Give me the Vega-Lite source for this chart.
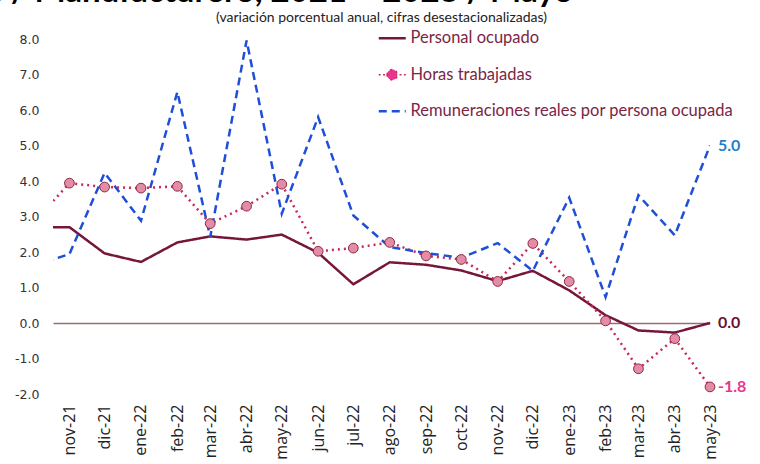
{
  "$schema": "https://vega.github.io/schema/vega-lite/v6.json",
  "autosize": {"type": "none"},
  "width": 657,
  "height": 355,
  "padding": {"left": 53, "top": 39, "right": 50, "bottom": 70},
  "background": "white",
  "config": {
    "view": {"stroke": null},
    "locale": {"number": {"decimal": ".", "thousands": ",", "grouping": [3], "currency": ["$", ""], "minus": "-"}}
  },
  "title": {
    "text": "Personal ocupado, horas trabajadas y remuneraciones / Manufacturero, 2021 – 2023 / Mayo",
    "anchor": "end",
    "frame": "group",
    "dx": -137,
    "offset": -25,
    "baseline": "alphabetic",
    "font": "Lato",
    "fontSize": 33,
    "fontWeight": "bold",
    "color": "#000000"
  },
  "data": {
    "values": [
      {"fecha": "2021-10-01", "Personal ocupado": 2.70, "Horas trabajadas": 2.81, "Remuneraciones reales por persona ocupada": 1.61},
      {"fecha": "2021-11-01", "Personal ocupado": 2.70, "Horas trabajadas": 3.94, "Remuneraciones reales por persona ocupada": 1.94},
      {"fecha": "2021-12-01", "Personal ocupado": 1.96, "Horas trabajadas": 3.83, "Remuneraciones reales por persona ocupada": 4.23},
      {"fecha": "2022-01-01", "Personal ocupado": 1.72, "Horas trabajadas": 3.80, "Remuneraciones reales por persona ocupada": 2.88},
      {"fecha": "2022-02-01", "Personal ocupado": 2.27, "Horas trabajadas": 3.85, "Remuneraciones reales por persona ocupada": 6.51},
      {"fecha": "2022-03-01", "Personal ocupado": 2.44, "Horas trabajadas": 2.80, "Remuneraciones reales por persona ocupada": 2.42},
      {"fecha": "2022-04-01", "Personal ocupado": 2.35, "Horas trabajadas": 3.29, "Remuneraciones reales por persona ocupada": 7.96},
      {"fecha": "2022-05-01", "Personal ocupado": 2.49, "Horas trabajadas": 3.91, "Remuneraciones reales por persona ocupada": 3.08},
      {"fecha": "2022-06-01", "Personal ocupado": 1.98, "Horas trabajadas": 2.02, "Remuneraciones reales por persona ocupada": 5.80},
      {"fecha": "2022-07-01", "Personal ocupado": 1.09, "Horas trabajadas": 2.11, "Remuneraciones reales por persona ocupada": 3.03},
      {"fecha": "2022-08-01", "Personal ocupado": 1.71, "Horas trabajadas": 2.27, "Remuneraciones reales por persona ocupada": 2.14},
      {"fecha": "2022-09-01", "Personal ocupado": 1.64, "Horas trabajadas": 1.89, "Remuneraciones reales por persona ocupada": 1.97},
      {"fecha": "2022-10-01", "Personal ocupado": 1.48, "Horas trabajadas": 1.79, "Remuneraciones reales por persona ocupada": 1.84},
      {"fecha": "2022-11-01", "Personal ocupado": 1.18, "Horas trabajadas": 1.17, "Remuneraciones reales por persona ocupada": 2.25},
      {"fecha": "2022-12-01", "Personal ocupado": 1.47, "Horas trabajadas": 2.24, "Remuneraciones reales por persona ocupada": 1.47},
      {"fecha": "2023-01-01", "Personal ocupado": 0.92, "Horas trabajadas": 1.17, "Remuneraciones reales por persona ocupada": 3.53},
      {"fecha": "2023-02-01", "Personal ocupado": 0.22, "Horas trabajadas": 0.06, "Remuneraciones reales por persona ocupada": 0.73},
      {"fecha": "2023-03-01", "Personal ocupado": -0.21, "Horas trabajadas": -1.29, "Remuneraciones reales por persona ocupada": 3.60},
      {"fecha": "2023-04-01", "Personal ocupado": -0.27, "Horas trabajadas": -0.44, "Remuneraciones reales por persona ocupada": 2.47},
      {"fecha": "2023-05-01", "Personal ocupado": 0.0, "Horas trabajadas": -1.80, "Remuneraciones reales por persona ocupada": 5.0}
    ]
  },
  "transform": [
    {"fold": ["Personal ocupado", "Horas trabajadas", "Remuneraciones reales por persona ocupada"], "as": ["serie", "valor"]}
  ],
  "encoding": {
    "x": {
      "field": "fecha", "type": "temporal",
      "scale": {"type": "utc", "nice": false, "domain": [{"year": 2021, "month": 10, "date": 18, "utc": true}, {"year": 2023, "month": 5, "date": 1, "utc": true}]},
      "axis": {
        "values": [
          {"year": 2021, "month": 11, "date": 1, "utc": true},
          {"year": 2021, "month": 12, "date": 1, "utc": true},
          {"year": 2022, "month": 1, "date": 1, "utc": true},
          {"year": 2022, "month": 2, "date": 1, "utc": true},
          {"year": 2022, "month": 3, "date": 1, "utc": true},
          {"year": 2022, "month": 4, "date": 1, "utc": true},
          {"year": 2022, "month": 5, "date": 1, "utc": true},
          {"year": 2022, "month": 6, "date": 1, "utc": true},
          {"year": 2022, "month": 7, "date": 1, "utc": true},
          {"year": 2022, "month": 8, "date": 1, "utc": true},
          {"year": 2022, "month": 9, "date": 1, "utc": true},
          {"year": 2022, "month": 10, "date": 1, "utc": true},
          {"year": 2022, "month": 11, "date": 1, "utc": true},
          {"year": 2022, "month": 12, "date": 1, "utc": true},
          {"year": 2023, "month": 1, "date": 1, "utc": true},
          {"year": 2023, "month": 2, "date": 1, "utc": true},
          {"year": 2023, "month": 3, "date": 1, "utc": true},
          {"year": 2023, "month": 4, "date": 1, "utc": true},
          {"year": 2023, "month": 5, "date": 1, "utc": true}
        ],
        "labelExpr": "['ene','feb','mar','abr','may','jun','jul','ago','sep','oct','nov','dic'][utcmonth(datum.value)] + '-' + utcFormat(datum.value, '%y')",
        "labelAngle": 270,
        "labelAlign": "right",
        "labelBaseline": "middle",
        "labelFont": "Open Sans",
        "labelFontSize": 16,
        "labelColor": "#222222",
        "labelPadding": 10,
        "labelOverlap": false,
        "labelFlush": false,
        "ticks": false,
        "domain": false,
        "grid": false,
        "title": null
      }
    },
    "y": {
      "field": "valor", "type": "quantitative",
      "scale": {"domain": [-2, 8], "nice": false, "zero": false},
      "axis": {
        "values": [-2, -1, 0, 1, 2, 3, 4, 5, 6, 7, 8],
        "format": ".1f",
        "labelFont": "DejaVu Sans",
        "labelFontSize": 12.5,
        "labelColor": "#333333",
        "labelPadding": 14,
        "labelFlush": false,
        "labelOverlap": false,
        "ticks": false,
        "domain": false,
        "grid": true,
        "gridWidth": 1.5,
        "gridColor": {"condition": {"test": "datum.value === 0", "value": "#9E6B72"}, "value": "transparent"},
        "title": "(variación porcentual anual, cifras desestacionalizadas)",
        "titleAngle": 0,
        "titleX": 328,
        "titleY": -18,
        "titleAlign": "center",
        "titleBaseline": "alphabetic",
        "titleFont": "Lato",
        "titleFontSize": 14,
        "titleFontWeight": "normal",
        "titleColor": "#222222"
      }
    }
  },
  "layer": [
    {
      "mark": {"type": "line", "clip": true, "strokeWidth": 2.5},
      "encoding": {
        "color": {
          "field": "serie", "type": "nominal",
          "scale": {"domain": ["Personal ocupado", "Horas trabajadas", "Remuneraciones reales por persona ocupada"], "range": ["#75163A", "#C8285A", "#1F4FD8"]},
          "legend": {
            "orient": "none",
            "legendX": 331,
            "legendY": -9,
            "direction": "vertical",
            "title": null,
            "symbolType": "stroke",
            "symbolSize": 729,
            "symbolStrokeWidth": 2.5,
            "labelFont": "Lato",
            "labelFontSize": 16.5,
            "labelColor": "#7B2645",
            "labelOffset": 10,
            "labelLimit": 400,
            "rowPadding": 19.5,
            "encode": {
              "symbols": {
                "update": {
                  "shape": {"signal": "datum.value === 'Horas trabajadas' ? 'M-1,0L-0.86,0M-0.68,0L-0.54,0M-0.38,0C-0.38,-0.21,-0.21,-0.38,0,-0.38C0.21,-0.38,0.38,-0.21,0.38,0C0.38,0.21,0.21,0.38,0,0.38C-0.21,0.38,-0.38,0.21,-0.38,0ZM0.54,0L0.68,0M0.86,0L1,0' : 'stroke'"},
                  "strokeDash": {"signal": "datum.value === 'Remuneraciones reales por persona ocupada' ? [7, 4] : []"},
                  "fill": {"signal": "datum.value === 'Horas trabajadas' ? '#E48CA6' : 'transparent'"},
                  "strokeWidth": {"signal": "datum.value === 'Horas trabajadas' ? 1.5 : 2.5"}
                }
              }
            }
          }
        },
        "strokeDash": {
          "field": "serie", "type": "nominal",
          "scale": {"domain": ["Personal ocupado", "Horas trabajadas", "Remuneraciones reales por persona ocupada"], "range": [[1, 0], [2, 4], [8, 5]]},
          "legend": null
        }
      }
    },
    {
      "transform": [{"filter": "datum.serie === 'Horas trabajadas' && toDate(datum.fecha) > utc(2021, 9, 15)"}],
      "mark": {"type": "circle", "size": 95, "fill": "#E48CA6", "stroke": "#8B2A45", "strokeWidth": 1, "opacity": 1}
    },
    {
      "transform": [{"filter": "toDate(datum.fecha) > utc(2023, 3, 15)"}],
      "mark": {"type": "text", "align": "left", "baseline": "middle", "dx": 8, "font": "Lato", "fontSize": 16, "fontWeight": "bold"},
      "encoding": {
        "text": {"field": "valor", "type": "quantitative", "format": ".1f"},
        "fill": {
          "field": "serie", "type": "nominal",
          "scale": {"domain": ["Personal ocupado", "Horas trabajadas", "Remuneraciones reales por persona ocupada"], "range": ["#6E1030", "#E8358F", "#1F7FC8"]},
          "legend": null
        }
      }
    }
  ]
}
